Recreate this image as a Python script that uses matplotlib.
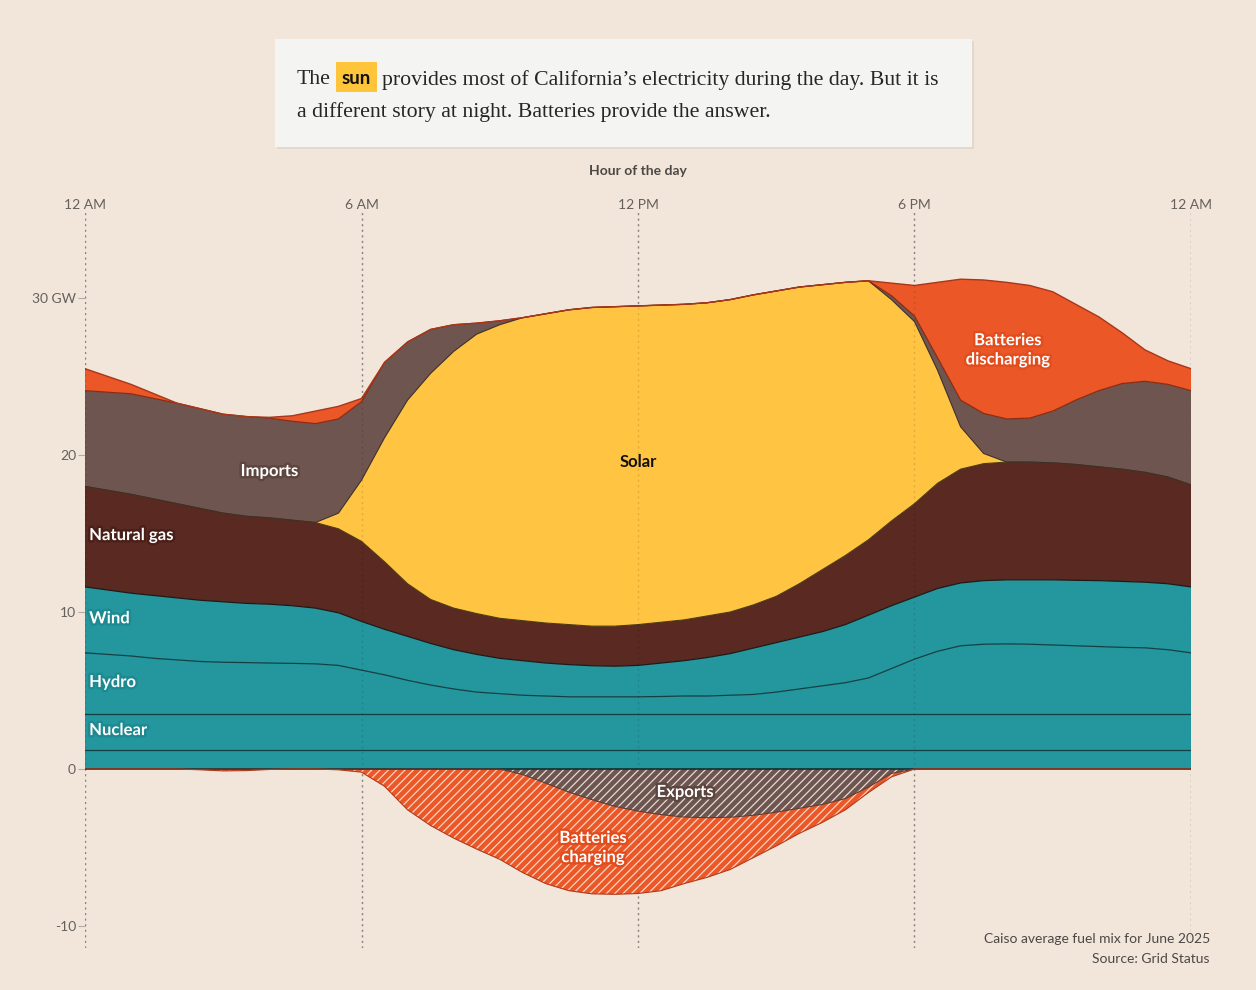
import numpy as np
import matplotlib
matplotlib.use("Agg")
import matplotlib.pyplot as plt
from matplotlib.patches import Rectangle
import matplotlib.patheffects as pe

# ---------------- data (GW, half-hourly averages, June 2025) ----------------
hours = np.arange(0, 24.01, 0.5)

other = [1.2] * 49
nuclear = [2.3] * 49
hydro = [3.9, 3.8, 3.7, 3.55, 3.45, 3.35, 3.3, 3.28, 3.25, 3.23, 3.2, 3.1, 2.8, 2.5,
         2.15, 1.85, 1.6, 1.4, 1.3, 1.2, 1.15, 1.1, 1.1, 1.1, 1.1, 1.12, 1.15, 1.15,
         1.2, 1.25, 1.4, 1.6, 1.8, 2.0, 2.3, 2.9, 3.5, 4.0, 4.35, 4.45, 4.47, 4.45,
         4.4, 4.35, 4.3, 4.25, 4.22, 4.1, 3.9]
wind = [4.2, 4.1, 4.0, 4.0, 3.95, 3.9, 3.85, 3.77, 3.75, 3.67, 3.55, 3.35, 3.1, 2.9,
        2.8, 2.65, 2.5, 2.4, 2.25, 2.2, 2.1, 2.05, 1.98, 1.95, 2.0, 2.13, 2.25, 2.45,
        2.65, 2.95, 3.15, 3.3, 3.45, 3.7, 4.0, 4.0, 3.95, 4.0, 4.0, 4.05, 4.08, 4.1,
        4.15, 4.17, 4.2, 4.2, 4.18, 4.2, 4.2]
natural_gas = [6.4, 6.35, 6.3, 6.15, 6.0, 5.85, 5.65, 5.55, 5.5, 5.45, 5.45, 5.35, 5.1,
               4.3, 3.35, 2.8, 2.65, 2.6, 2.55, 2.55, 2.55, 2.55, 2.52, 2.55, 2.6, 2.6,
               2.6, 2.65, 2.65, 2.75, 2.95, 3.4, 3.95, 4.4, 4.8, 5.4, 5.95, 6.7, 7.25,
               7.45, 7.5, 7.5, 7.45, 7.38, 7.25, 7.15, 7.0, 6.8, 6.5]
solar = [0, 0, 0, 0, 0, 0, 0, 0, 0, 0, 0, 1.0, 3.9, 7.9, 11.7, 14.4, 16.35, 17.8,
         18.7, 19.3, 19.7, 20.05, 20.3, 20.35, 20.3, 20.2, 20.1, 19.95, 19.9, 19.75,
         19.45, 18.9, 18.15, 17.4, 16.5, 14.1, 11.6, 7.2, 2.7, 0.65, 0.0,
         0, 0, 0, 0, 0, 0, 0, 0]
imports = [6.1, 6.25, 6.4, 6.4, 6.4, 6.35, 6.3, 6.35, 6.35, 6.3, 6.3, 6.0, 5.0, 4.8,
           3.7, 2.8, 1.7, 0.7, 0.25, 0, 0, 0, 0, 0, 0, 0, 0, 0, 0, 0, 0, 0, 0, 0, 0,
           0.25, 0.35, 0.8, 1.7, 2.55, 2.75, 2.8, 3.3, 4.1, 4.85, 5.45, 5.8, 5.9, 6.0]
batteries_discharging = [1.4, 1.0, 0.6, 0.3, 0.0, 0, 0, 0, 0.05, 0.35, 0.8, 0.8, 0.2,
                         0, 0, 0, 0, 0, 0, 0, 0, 0, 0, 0, 0, 0, 0, 0, 0, 0, 0, 0, 0, 0, 0,
                         0.8, 1.95, 4.8, 7.7, 8.5, 8.7, 8.45, 7.6, 6.1, 4.7, 3.25, 2.0,
                         1.5, 1.4]
exports = [0] * 19 + [-0.35, -0.9, -1.47, -1.95, -2.38, -2.68, -2.9, -3.06, -3.1,
                      -3.07, -2.95, -2.75, -2.5, -2.26, -1.88, -1.15, -0.28] + [0] * 13
batteries_charging = [0, 0, 0, 0, 0, -0.05, -0.12, -0.1, -0.03, 0, 0, -0.05, -0.2,
                      -1.1, -2.6, -3.6, -4.4, -5.1, -5.75, -6.25, -6.4, -6.28, -6.0,
                      -5.6, -5.25, -4.85, -4.24, -3.8, -3.33, -2.7, -2.15, -1.6, -1.14,
                      -0.72, -0.35, -0.22, 0] + [0] * 12

hour_ticks = [0, 6, 12, 18, 24]
hour_labels = ["12 AM", "6 AM", "12 PM", "6 PM", "12 AM"]
gw_ticks = [-10, 0, 10, 20, 30]
gw_labels = ["-10", "0", "10", "20", "30 GW"]

# ---------------- style ----------------
BG = "#F2E6DB"
TEAL = "#24979E"
TEAL_EDGE = "#143f43"
GAS = "#5A2921"
SOLAR = "#FFC441"
IMPORTS = "#6E5550"
BATT = "#EC5727"
SANS = ["Lato", "DejaVu Sans"]
SERIF = ["Liberation Serif", "DejaVu Serif"]
GREY = "#66605C"

plt.rcParams["hatch.linewidth"] = 0.9

W, H = 1256, 990
fig = plt.figure(figsize=(W / 100, H / 100), dpi=100, facecolor=BG)


def fx(x):
    return x / W


def fy(y):
    return 1 - y / H


ax_left, ax_right, ax_top, ax_bot = 85, 1191, 212, 948
ax = fig.add_axes([fx(ax_left), fy(ax_bot), (ax_right - ax_left) / W,
                   (ax_bot - ax_top) / H])
ax.set_facecolor(BG)
ax.set_xlim(0, 24)
ax.set_ylim(-11.4, 35.48)

# ---------------- positive stack ----------------
layers = [
    (other, TEAL, TEAL_EDGE, 0.9),
    (nuclear, TEAL, TEAL_EDGE, 0.9),
    (hydro, TEAL, TEAL_EDGE, 0.9),
    (wind, TEAL, "#1e1a18", 0.9),
    (natural_gas, GAS, "#4a3a10", 0.8),
    (solar, SOLAR, "#3e2f2b", 0.8),
    (imports, IMPORTS, "#8a2c12", 0.9),
    (batteries_discharging, BATT, "#a8361a", 1.0),
]
base = np.zeros(len(hours))
for vals, col, ecol, lw in layers:
    top = base + np.array(vals, dtype=float)
    ax.fill_between(hours, base, top, facecolor=col, edgecolor="none",
                    linewidth=0, zorder=2)
    base = top
tops = np.cumsum(np.array([l[0] for l in layers], dtype=float), axis=0)
for i, (vals, col, ecol, lw) in enumerate(layers):
    ax.plot(hours, tops[i], color=ecol, lw=lw, zorder=4, solid_joinstyle="round")
ax.plot([0, 24], [0, 0], color="#10302f", lw=1.2, zorder=4)

# ---------------- negative stack (hatched) ----------------
exp = np.array(exports, dtype=float)
chg = exp + np.array(batteries_charging, dtype=float)
ax.fill_between(hours, 0, exp, facecolor=IMPORTS, edgecolor="none", lw=0, zorder=2)
ax.fill_between(hours, 0, exp, facecolor="none", edgecolor="#E6DAD4", hatch="////",
                lw=0, zorder=3)
ax.fill_between(hours, exp, chg, facecolor=BATT, edgecolor="none", lw=0, zorder=2)
ax.fill_between(hours, exp, chg, facecolor="none", edgecolor="#FCD6C4", hatch="////",
                lw=0, zorder=3)
ax.plot(hours, exp, color="#5a3b33", lw=0.8, zorder=4)
ax.plot(hours, chg, color="#b03a1a", lw=0.8, zorder=4)

# ---------------- grid / axes ----------------
for h in hour_ticks:
    ax.axvline(h, color="#9C948E", lw=1.0, ls=(0, (1.5, 2.5)), zorder=1)
    ax.axvline(h, color="#000000", alpha=0.12, lw=1.0, ls=(0, (1.5, 2.5)), zorder=5)

for s in ax.spines.values():
    s.set_visible(False)
ax.xaxis.tick_top()
ax.set_xticks(hour_ticks)
ax.set_xticklabels(hour_labels, fontsize=10, color=GREY, family=SANS)
ax.tick_params(axis="x", length=0, pad=0.5)
ax.set_yticks(gw_ticks)
ax.set_yticklabels(gw_labels, fontsize=10, color=GREY, family=SANS)
ax.tick_params(axis="y", length=5, width=0.8, color="#B5ABA3", pad=1.5)

fig.text(fx(638), fy(171), "Hour of the day", ha="center", va="center",
         fontsize=10, fontweight="bold", color="#4D4845", family=SANS)

# ---------------- labels ----------------


def lab(x, y, s, halo, ha="center", color="white"):
    t = ax.text(x, y, s, ha=ha, va="center", fontsize=12, fontweight="bold",
                color=color, family=SANS, zorder=8, linespacing=1.25)
    if halo is not None:
        t.set_path_effects([pe.withStroke(linewidth=3.5, foreground=halo)])
    return t


lab(4.0, 18.98, "Imports", "#5d4540")
lab(0.09, 14.9, "Natural gas", "#4a1f18", ha="left")
lab(0.09, 9.6, "Wind", "#1d8a91", ha="left")
lab(0.09, 5.54, "Hydro", "#1d8a91", ha="left")
lab(0.09, 2.48, "Nuclear", "#1d8a91", ha="left")
lab(12.0, 19.55, "Solar", None, color="#111111")
lab(20.02, 26.7, "Batteries\ndischarging", "#e24d1e")
lab(13.02, -1.46, "Exports", "#5d4540")
lab(11.02, -5.0, "Batteries\ncharging", "#e24d1e")

# ---------------- headline box ----------------
fig.add_artist(Rectangle((fx(277), fy(149)), 697 / W, 108 / H, transform=fig.transFigure,
                         facecolor="#E3D8CE", edgecolor="none", zorder=0))
fig.add_artist(Rectangle((fx(275), fy(147)), 697 / W, 108 / H, transform=fig.transFigure,
                         facecolor="#F4F4F2", edgecolor="none", zorder=1))
fig.add_artist(Rectangle((fx(336), fy(92)), 41 / W, 30 / H, transform=fig.transFigure,
                         facecolor="#FFC53A", edgecolor="none", zorder=2))
fig.text(fx(297), fy(80), "The", ha="left", va="center", fontsize=15.7,
         color="#262626", family=SERIF, zorder=3)
fig.text(fx(356.5), fy(78), "sun", ha="center", va="center", fontsize=13.5,
         fontweight="bold", color="#111111", family=SANS, zorder=3)
fig.text(fx(382), fy(80),
         "provides most of California\u2019s electricity during the day. But it is",
         ha="left", va="center", fontsize=15.7, color="#262626", family=SERIF, zorder=3)
fig.text(fx(297), fy(112), "a different story at night. Batteries provide the answer.",
         ha="left", va="center", fontsize=15.7, color="#262626", family=SERIF, zorder=3)

# ---------------- footnote ----------------
fig.text(fx(1210), fy(939), "Caiso average fuel mix for June 2025", ha="right",
         va="center", fontsize=10, color="#4D4845", family=SANS)
fig.text(fx(1210), fy(959), "Source: Grid Status", ha="right", va="center",
         fontsize=10, color="#4D4845", family=SANS)

fig.savefig("out.png", dpi=100, facecolor=BG)
